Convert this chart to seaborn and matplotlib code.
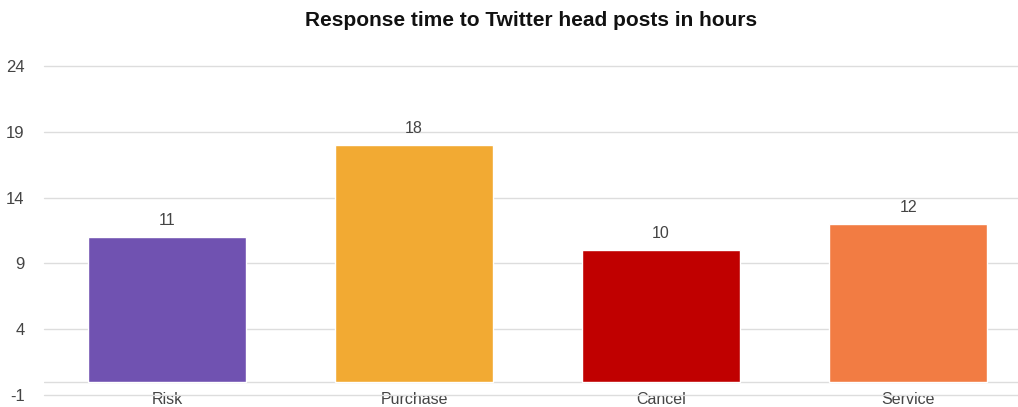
import matplotlib
matplotlib.use("Agg")
import matplotlib.pyplot as plt
import seaborn as sns
import pandas as pd

categories = ["Risk", "Purchase", "Cancel", "Service"]
values = [11, 18, 10, 12]
colors = ["#7052B1", "#F2AA33", "#C00000", "#F27C43"]
yticks = [-1, 4, 9, 14, 19, 24]
title = "Response time to Twitter head posts in hours"

sns.set_style("white")
plt.rcParams["font.family"] = ["Liberation Sans", "DejaVu Sans"]

df = pd.DataFrame({"category": categories, "value": values})

fig = plt.figure(figsize=(10.18, 4.07), dpi=100)
ax = fig.add_axes([44 / 1018, 1 - 395 / 407, (1018 - 44) / 1018, (395 - 66) / 407])

sns.barplot(data=df, x="category", y="value", hue="category", palette=colors,
            order=categories, hue_order=categories, legend=False, width=0.64,
            saturation=1, ax=ax, zorder=3)

ax.set_ylim(-1, 24)
ax.set_xlim(-0.498, 3.445)
ax.set_yticks(yticks)
ax.set_yticklabels([str(t) for t in yticks])
ax.grid(axis="y", color="#dddddd", linewidth=1, zorder=0)
for gl in ax.get_ygridlines():
    gl.set_clip_on(False)
ax.axhline(0, color="#dddddd", linewidth=1, zorder=1)
for s in ax.spines.values():
    s.set_visible(False)
ax.tick_params(axis="both", length=0, labelsize=12, labelcolor="#444444")
ax.tick_params(axis="y", pad=14)
ax.tick_params(axis="x", pad=-2, labelsize=11.5)
ax.set_xlabel("")
ax.set_ylabel("")

for p in ax.patches:
    h = p.get_height()
    if h != h or h == 0:
        continue
    ax.annotate(f"{h:g}", (p.get_x() + p.get_width() / 2, h),
                xytext=(0, 6.5), textcoords="offset points",
                ha="center", va="bottom", fontsize=11.5, color="#444444")

fig.text(0.522, 1 - 20 / 407, title, ha="center", va="center",
         fontsize=15, fontweight="bold", color="#111111")

fig.savefig("out.png", dpi=100)
